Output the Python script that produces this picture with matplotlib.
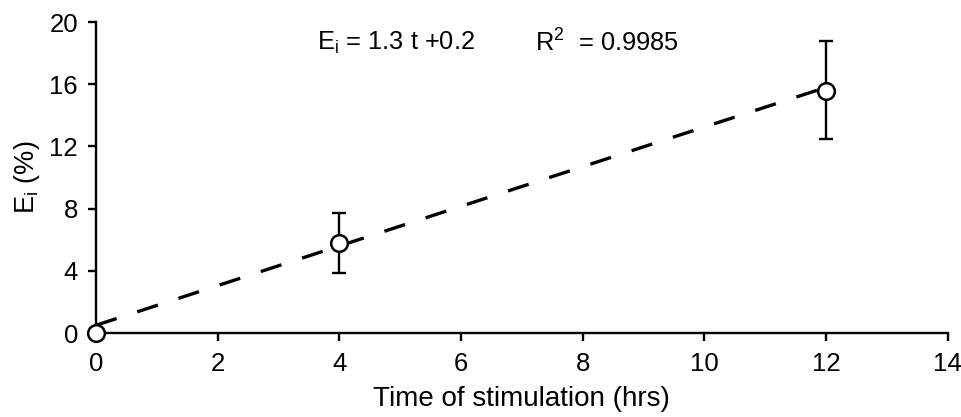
import matplotlib
matplotlib.use("Agg")
import matplotlib.pyplot as plt

plt.rcParams['font.family'] = ['Liberation Sans', 'DejaVu Sans']
plt.rcParams['mathtext.fontset'] = 'custom'
plt.rcParams['mathtext.rm'] = 'Liberation Sans'
plt.rcParams['mathtext.it'] = 'Liberation Sans'

time_hrs = [0, 4, 12]
ei_pct = [0.0, 5.8, 15.6]
err_low = [0.0, 1.95, 3.1]
err_high = [0.0, 1.95, 3.2]
fit_x = [0, 12]
fit_y = [0.5, 15.8]
x_ticks = [0, 2, 4, 6, 8, 10, 12, 14]
y_ticks = [0, 4, 8, 12, 16, 20]

fig = plt.figure(figsize=(9.62, 4.17), dpi=100)
ax = fig.add_axes([0.0998, 0.2014, 0.8852, 0.7456])

ax.plot(fit_x, fit_y, color='black', lw=2.4, dashes=(6.5, 6.5), zorder=2)
ax.errorbar(time_hrs, ei_pct, yerr=[err_low, err_high], fmt='none', ecolor='black',
            elinewidth=1.7, capsize=5, capthick=1.7, zorder=3)
ax.plot(time_hrs, ei_pct, 'o', ms=12, mfc='white', mec='black', mew=1.8,
        clip_on=False, zorder=5)

ax.set_xlim(0, 14)
ax.set_ylim(0, 20)
ax.set_xticks(x_ticks)
ax.set_yticks(y_ticks)
ax.spines['top'].set_visible(False)
ax.spines['right'].set_visible(False)
for s in ['left', 'bottom']:
    ax.spines[s].set_linewidth(1.7)
ax.tick_params(direction='out', length=6, width=1.7, labelsize=18.5)
ax.tick_params(axis='y', pad=7)
ax.tick_params(axis='x', pad=8)

ax.set_xlabel('Time of stimulation (hrs)', fontsize=20, labelpad=7)
ax.set_ylabel(r'E$_\mathregular{i}$ (%)', fontsize=19.5)
ax.yaxis.set_label_coords(-0.064, 0.5)

ax.text(0.259, 0.932, r'E$_\mathregular{i}$ = 1.3 t +0.2', transform=ax.transAxes,
        fontsize=18.3, va='center', ha='left')
ax.text(0.515, 0.932, r'R$^\mathregular{2}$  = 0.9985', transform=ax.transAxes,
        fontsize=18.3, va='center', ha='left')

fig.savefig('out.png', dpi=100)
